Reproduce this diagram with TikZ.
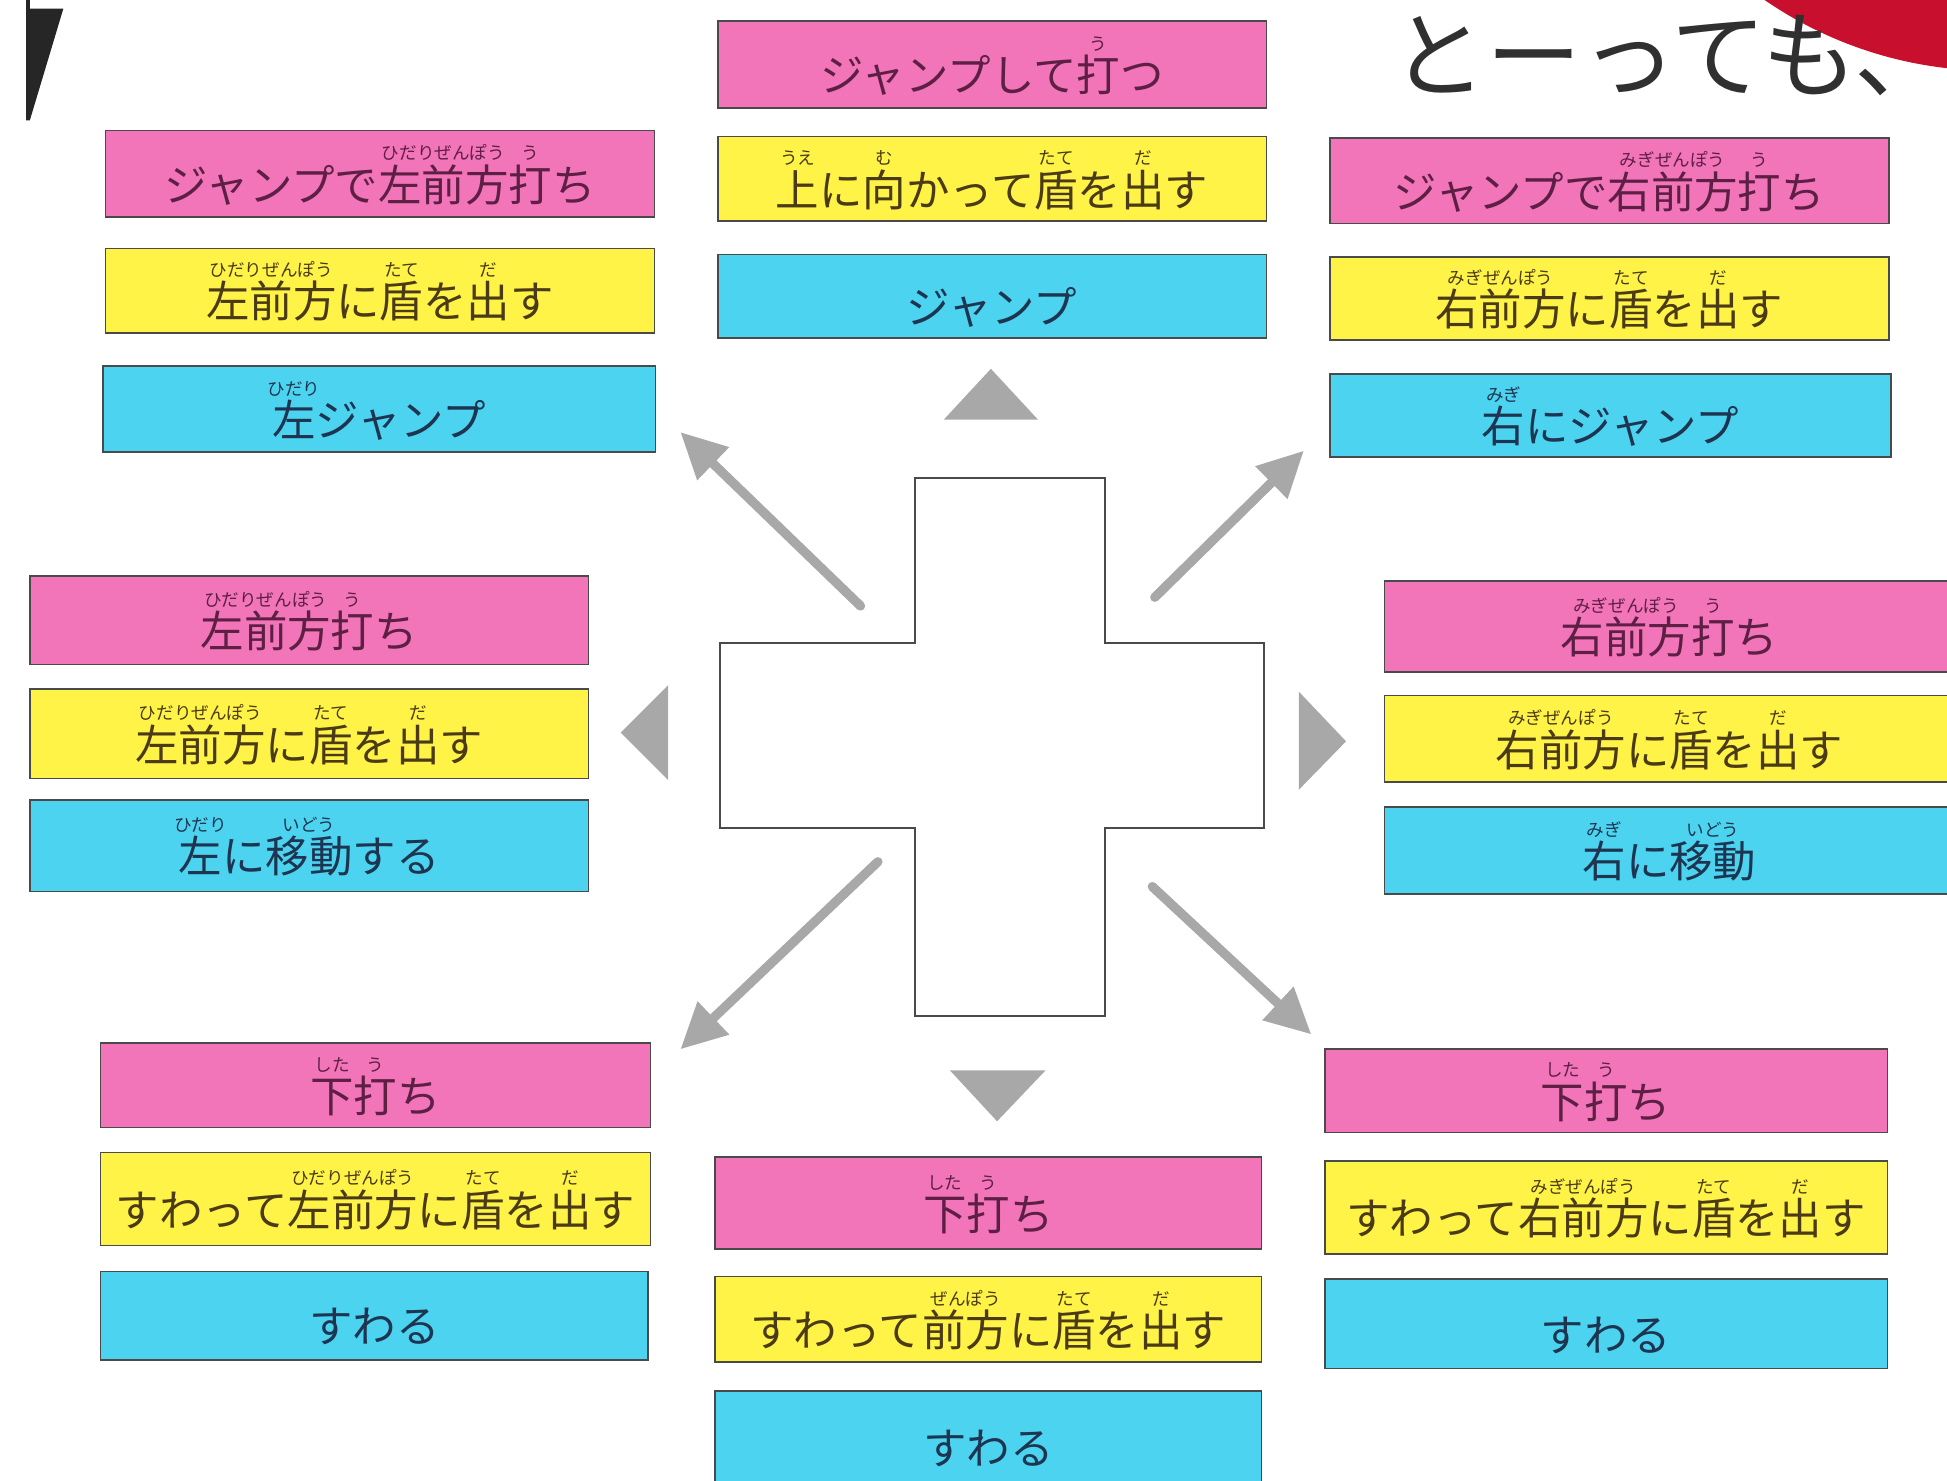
\documentclass[tikz,border=0pt]{standalone}
\usepackage{fontspec}
\setmainfont{Noto Sans CJK JP}
\usetikzlibrary{arrows.meta}
\definecolor{pinkc}{HTML}{F274B9}
\definecolor{yelc}{HTML}{FFF347}
\definecolor{cyanc}{HTML}{4CD3F0}
\definecolor{pinkt}{HTML}{5E1F45}
\definecolor{yelt}{HTML}{4A3B16}
\definecolor{cyant}{HTML}{1D3550}
\definecolor{bordc}{HTML}{4A4A4A}
\definecolor{arrc}{HTML}{A8A8A8}
\definecolor{redc}{HTML}{C8102E}
\definecolor{inkc}{HTML}{303030}
\newsavebox{\rbbox}
\newcommand{\rbfont}{\fontsize{8.5pt}{8.5pt}\selectfont}
\newcommand{\rb}[2]{\sbox{\rbbox}{#1}\rlap{\raisebox{20pt}[0pt][0pt]{\makebox[\wd\rbbox][c]{\rbfont #2}}}\usebox{\rbbox}}
\newcommand{\bx}[7]{\node[#2, minimum width={(#5-#3)*0.6pt}, minimum height={(#6-#4)*0.6pt}] (#1) at ({(#3+#5)/2},{(#4+#6)/2}) {#7};}
\tikzset{
 cell/.style={draw=bordc, line width=0.8pt, inner sep=0pt, text height=26.4pt, text depth=0pt, font=\fontsize{21pt}{21pt}\selectfont},
 pk/.style={cell, fill=pinkc, text=pinkt},
 yl/.style={cell, fill=yelc, text=yelt},
 cy/.style={cell, fill=cyanc, text=cyant},
 arr/.style={draw=arrc, line width=4.5pt, line cap=round, -{Triangle[length=22pt, width=21pt]}},
 tri/.style={fill=arrc, draw=none},
}
\begin{document}
\begin{tikzpicture}[x=0.6pt, y=-0.6pt]
\useasboundingbox (0,0) rectangle (1568,1192);
\clip (0,0) rectangle (1568,1192);
\fill[white] (0,0) rectangle (1568,1192);
% corner wedge
\fill[black!85] (21,0) -- (24,0) -- (24,7) -- (51,7) -- (24,97) -- (21,97) -- cycle;
% red circle and heading text
\fill[redc] (1605,-268) circle [radius=195pt];
\node[anchor=base west, inner sep=0pt, text=inkc, font=\fontsize{46pt}{46pt}\selectfont] (head) at (1120,73) {とーっても、};
% top-left
\bx{tlp}{pk}{85}{105}{527}{175}{ジャンプで\rb{左前方}{ひだりぜんぽう}\rb{打}{う}ち}
\bx{tly}{yl}{85}{200}{527}{268}{\rb{左前方}{ひだりぜんぽう}に\rb{盾}{たて}を\rb{出}{だ}す}
\bx{tlc}{cy}{83}{295}{528}{364}{\rb{左}{ひだり}ジャンプ}
% top-center
\bx{tcp}{pk}{578}{17}{1020}{87}{ジャンプして\rb{打}{う}つ}
\bx{tcy}{yl}{578}{110}{1020}{178}{\rb{上}{うえ}に\rb{向}{む}かって\rb{盾}{たて}を\rb{出}{だ}す}
\bx{tcc}{cy}{578}{205}{1020}{272}{ジャンプ}
% top-right
\bx{trp}{pk}{1071}{111}{1521}{180}{ジャンプで\rb{右前方}{みぎぜんぽう}\rb{打}{う}ち}
\bx{try}{yl}{1071}{207}{1521}{274}{\rb{右前方}{みぎぜんぽう}に\rb{盾}{たて}を\rb{出}{だ}す}
\bx{trc}{cy}{1071}{301}{1523}{368}{\rb{右}{みぎ}にジャンプ}
% mid-left
\bx{mlp}{pk}{24}{464}{474}{535}{\rb{左前方}{ひだりぜんぽう}\rb{打}{う}ち}
\bx{mly}{yl}{24}{555}{474}{627}{\rb{左前方}{ひだりぜんぽう}に\rb{盾}{たて}を\rb{出}{だ}す}
\bx{mlc}{cy}{24}{644}{474}{718}{\rb{左}{ひだり}に\rb{移動}{いどう}する}
% mid-right (runs off the right edge)
\bx{mrp}{pk}{1115}{468}{1574}{541}{\rb{右前方}{みぎぜんぽう}\rb{打}{う}ち}
\bx{mry}{yl}{1115}{560}{1574}{630}{\rb{右前方}{みぎぜんぽう}に\rb{盾}{たて}を\rb{出}{だ}す}
\bx{mrc}{cy}{1115}{650}{1574}{720}{\rb{右}{みぎ}に\rb{移動}{いどう}}
% bottom-left
\bx{blp}{pk}{81}{840}{524}{908}{\rb{下}{した}\rb{打}{う}ち}
\bx{bly}{yl}{81}{928}{524}{1003}{すわって\rb{左前方}{ひだりぜんぽう}に\rb{盾}{たて}を\rb{出}{だ}す}
\bx{blc}{cy}{81}{1024}{522}{1095}{すわる}
% bottom-center
\bx{bcp}{pk}{576}{932}{1016}{1006}{\rb{下}{した}\rb{打}{う}ち}
\bx{bcy}{yl}{576}{1028}{1016}{1097}{すわって\rb{前方}{ぜんぽう}に\rb{盾}{たて}を\rb{出}{だ}す}
\bx{bcc}{cy}{576}{1120}{1016}{1195}{すわる}
% bottom-right
\bx{brp}{pk}{1067}{845}{1520}{912}{\rb{下}{した}\rb{打}{う}ち}
\bx{bry}{yl}{1067}{935}{1520}{1010}{すわって\rb{右前方}{みぎぜんぽう}に\rb{盾}{たて}を\rb{出}{だ}す}
\bx{brc}{cy}{1067}{1030}{1520}{1102}{すわる}
% cross
\draw[draw=bordc, line width=1pt, fill=white] (737,385) -- (890,385) -- (890,518) -- (1018,518) -- (1018,667) -- (890,667) -- (890,818) -- (737,818) -- (737,667) -- (580,667) -- (580,518) -- (737,518) -- cycle;
% direction triangles
\fill[tri] (798,297) -- (836,338) -- (760,338) -- cycle;
\fill[tri] (765,862) -- (842,862) -- (803,903) -- cycle;
\fill[tri] (500,590) -- (538,552) -- (538,628) -- cycle;
\fill[tri] (1084,597) -- (1046,557) -- (1046,636) -- cycle;
% diagonal arrows
\coordinate (nwA) at (693,488); \coordinate (nwB) at (548,348);
\coordinate (neA) at (930,481); \coordinate (neB) at (1050,363);
\coordinate (swA) at (707,694); \coordinate (swB) at (548,845);
\coordinate (seA) at (928,714); \coordinate (seB) at (1056,833);
\draw[arr] (nwA) -- (nwB);
\draw[arr] (neA) -- (neB);
\draw[arr] (swA) -- (swB);
\draw[arr] (seA) -- (seB);
\end{tikzpicture}
\end{document}
